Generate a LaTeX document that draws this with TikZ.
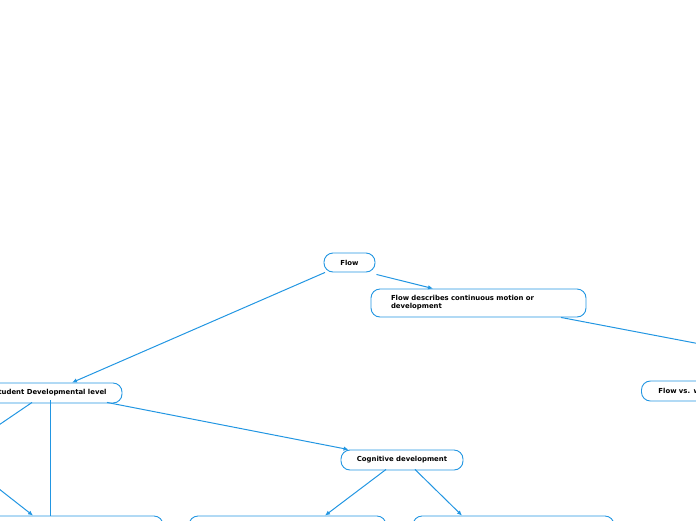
\documentclass[tikz,border=0pt]{standalone}
\usepackage{fontspec}
\setmainfont{DejaVu Sans}
\usepackage{tikz}
\usetikzlibrary{arrows.meta,positioning,calc}
\definecolor{mapblue}{RGB}{34, 150, 226}

\begin{document}
\begin{tikzpicture}[
  x=1pt, y=-1pt,
  >={Latex[length=5pt,width=4.5pt]},
  font=\fontsize{6.9}{8}\selectfont\bfseries,
  topic/.style={draw=mapblue, line width=0.9pt, rounded corners=9pt, fill=white, align=center, inner xsep=6pt, inner ysep=0pt},
  leaf/.style={draw=mapblue, line width=0.9pt, rounded corners=9pt, fill=white, minimum height=30pt},
  arr/.style={->, line width=1pt, color=mapblue},
  ln/.style={line width=1pt, color=mapblue}
]
\useasboundingbox (0,0) rectangle (696,520);
\clip (0,0) rectangle (696,520);
% Central topic
\node[topic, minimum width=51pt, minimum height=19pt] (flow) at (349.5,262.5) {Flow};
% Main branches
\node[topic, align=left, text width=175pt, inner xsep=20pt, minimum height=28pt] (desc) at (478.5,303) {Flow describes continuous motion or\\development};
\node[topic, minimum width=144pt, minimum height=20pt] (student) at (50,393) {Student Developmental level};
\node[topic, anchor=west, align=left, text width=110pt, inner xsep=17pt, minimum height=20pt] (versus) at (641,391) {Flow vs. w};
% Sub topics
\node[topic, minimum width=122pt, minimum height=20pt] (cog) at (402,460) {Cognitive development};
\node[leaf, minimum width=203pt] (b1) at (61.5,531) {};
\node[leaf, minimum width=197pt] (b2) at (287.5,531) {};
\node[leaf, minimum width=201pt] (b3) at (513.5,531) {};
% loose ends
\coordinate (r1) at (826,368);
\coordinate (l1) at (-32,446);
\coordinate (l2) at (-20,474);
% arrows
\draw[arr] ([xshift=-24.5pt]flow.south) -- ([xshift=22pt]student.north);
\draw[arr] ([xshift=1pt,yshift=-2pt]flow.south east) -- ([xshift=-45.5pt]desc.north);
\draw[ln] ([xshift=82.5pt]desc.south) -- (r1);
\draw[ln] ([xshift=-18pt,yshift=1pt]student.south) -- (l1);
\draw[ln] ([yshift=3pt]student.south) -- (student.south |- b1.north);
\draw[arr] (l2) -- ([xshift=-28.5pt]b1.north);
\draw[arr] ([xshift=57pt,yshift=1pt]student.south) -- ([xshift=8pt]cog.north west);
\draw[arr] ([xshift=-16pt,yshift=1pt]cog.south) -- ([xshift=37.5pt]b2.north);
\draw[arr] ([xshift=13pt,yshift=1pt]cog.south) -- ([xshift=-51.5pt]b3.north);
\end{tikzpicture}
\end{document}
